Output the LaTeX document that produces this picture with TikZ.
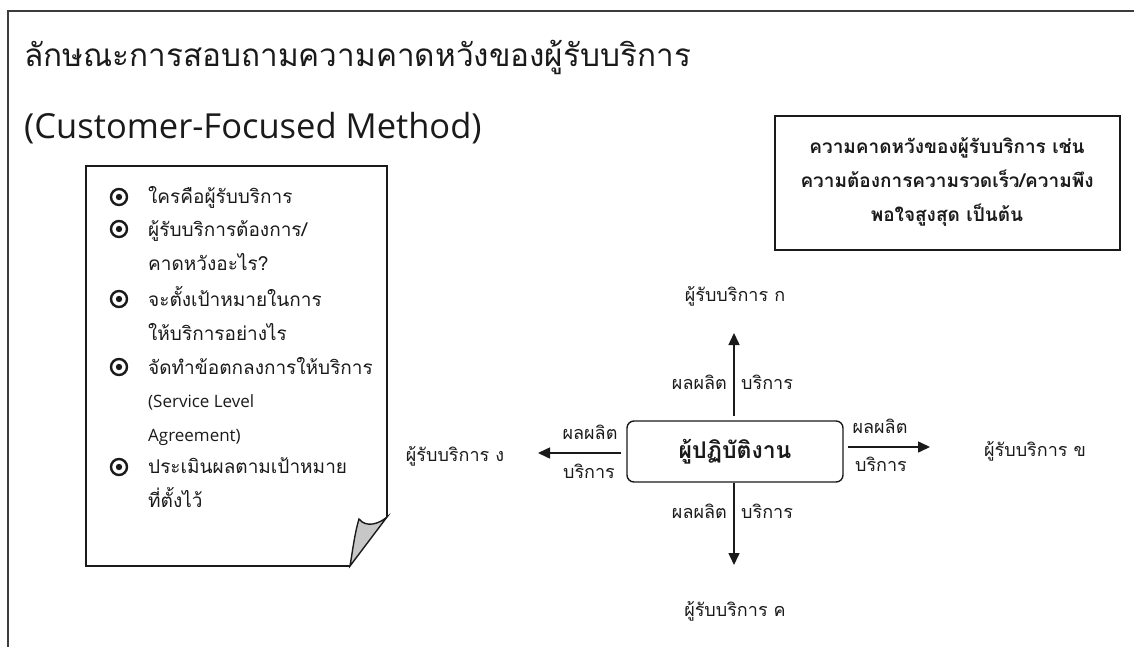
\documentclass[tikz,border=0pt]{standalone}
\usepackage{fontspec}
\setmainfont{Loma}[Script=Thai]
\newfontfamily\latinfont{Open Sans}
\usetikzlibrary{arrows.meta}
\definecolor{ink}{HTML}{1A1A1A}
\tikzset{
  frameline/.style={line width=2pt, draw=ink!85},
  paper/.style={line width=1.4pt, draw=ink},
  curl/.style={line width=1.4pt, draw=ink, fill=black!22},
  bulletmark/.style={circle, draw=ink, line width=2.4pt, minimum size=16pt, inner sep=0pt,
    path picture={\fill[ink] (path picture bounding box.center) circle (3.2pt);}},
  item/.style={anchor=base west, inner sep=0pt, text=ink, font=\fontsize{19}{22}\selectfont},
  heading/.style={anchor=base west, inner sep=0pt, text=ink},
  notebox/.style={draw=ink, line width=1.4pt, minimum width=345pt, minimum height=134pt},
  noteline/.style={anchor=base, inner sep=0pt, text=ink, font=\bfseries\fontsize{19}{22}\selectfont},
  worker/.style={draw=ink, line width=1.4pt, rounded corners=7pt, minimum width=216pt,
    minimum height=61pt, text=ink, font=\bfseries\fontsize{23}{26}\selectfont},
  customer/.style={anchor=base, inner sep=0pt, text=ink, font=\fontsize{18}{21}\selectfont},
  flowlabel/.style={inner sep=0pt, text=ink, font=\fontsize{18}{21}\selectfont},
  flow/.style={line width=1.5pt, draw=ink, -{Triangle[length=12pt, width=11pt]}}
}
\begin{document}
\begin{tikzpicture}[x=1pt, y=-1pt]
  \useasboundingbox (0,0) rectangle (1134,647);

  % page frame (top and left edges)
  \draw[frameline] (8,647) -- (8,11) -- (1134,11);

  % title
  \node[heading, font=\fontsize{31.5}{36}\selectfont] (title) at (24,67)
    {ลักษณะการสอบถามความคาดหวังของผู้รับบริการ};
  \node[heading, font=\latinfont\fontsize{34.5}{40}\selectfont] (subtitle) at (24,139)
    {(Customer-Focused Method)};

  % note sheet with turned-up corner
  \draw[paper] (350,566) -- (86,566) -- (86,166) -- (387,166) -- (387,517);
  \draw[curl] (350,566) .. controls (353,548) and (355,532) .. (359,519)
    .. controls (366,528) and (379,524) .. (387,517) -- cycle;

  % checklist
  \node[bulletmark] (b1) at (119,197) {};
  \node[bulletmark] (b2) at (119,229) {};
  \node[bulletmark] (b3) at (119,299) {};
  \node[bulletmark] (b4) at (119,367) {};
  \node[bulletmark] (b5) at (119,467) {};
  \node[item] (i1)  at (148,204) {ใครคือผู้รับบริการ};
  \node[item] (i2a) at (148,236) {ผู้รับบริการต้องการ/};
  \node[item] (i2b) at (148,270) {คาดหวังอะไร?};
  \node[item] (i3a) at (148,306) {จะตั้งเป้าหมายในการ};
  \node[item] (i3b) at (148,340) {ให้บริการอย่างไร};
  \node[item] (i4a) at (148,374) {จัดทำข้อตกลงการให้บริการ};
  \node[item, font=\latinfont\fontsize{17}{20}\selectfont] (i4b) at (148,407) {(Service Level};
  \node[item, font=\latinfont\fontsize{17}{20}\selectfont] (i4c) at (148,441) {Agreement)};
  \node[item] (i5a) at (148,473) {ประเมินผลตามเป้าหมาย};
  \node[item] (i5b) at (148,507) {ที่ตั้งไว้};

  % expectations box
  \node[notebox] (expect) at (947.5,183) {};
  \node[noteline] (e1) at (947,154) {ความคาดหวังของผู้รับบริการ เช่น};
  \node[noteline] (e2) at (947,188) {ความต้องการความรวดเร็ว/ความพึง};
  \node[noteline] (e3) at (947,221) {พอใจสูงสุด เป็นต้น};

  % service provider and its customers
  \node[worker] (work) at (735,451.5) {ผู้ปฏิบัติงาน};
  \node[customer] (cA) at (735,301) {ผู้รับบริการ ก};
  \node[customer] (cB) at (1035,456) {ผู้รับบริการ ข};
  \node[customer] (cC) at (735,616) {ผู้รับบริการ ค};
  \node[customer] (cD) at (455,461) {ผู้รับบริการ ง};

  \coordinate (tipA) at (734,333);
  \coordinate (tipB) at (930,447);
  \coordinate (tipC) at (734,565);
  \coordinate (tipD) at (538,453);

  \draw[flow] (work.north -| tipA) ++(0,-4) -- (tipA);
  \draw[flow] (work.east |- tipB) ++(4,0) -- (tipB);
  \draw[flow] (work.south -| tipC) -- (tipC);
  \draw[flow] (work.west |- tipD) ++(-5,0) -- (tipD);

  % flow labels
  \node[flowlabel, anchor=base east] (pA) at (727,389) {ผลผลิต};
  \node[flowlabel, anchor=base west] (sA) at (741,389) {บริการ};
  \node[flowlabel, anchor=base east] (pC) at (727,518) {ผลผลิต};
  \node[flowlabel, anchor=base west] (sC) at (741,518) {บริการ};
  \node[flowlabel, anchor=base] (pD) at (590,439) {ผลผลิต};
  \node[flowlabel, anchor=base] (sD) at (589,478) {บริการ};
  \node[flowlabel, anchor=base] (pB) at (880,433) {ผลผลิต};
  \node[flowlabel, anchor=base] (sB) at (881,471) {บริการ};
\end{tikzpicture}
\end{document}
